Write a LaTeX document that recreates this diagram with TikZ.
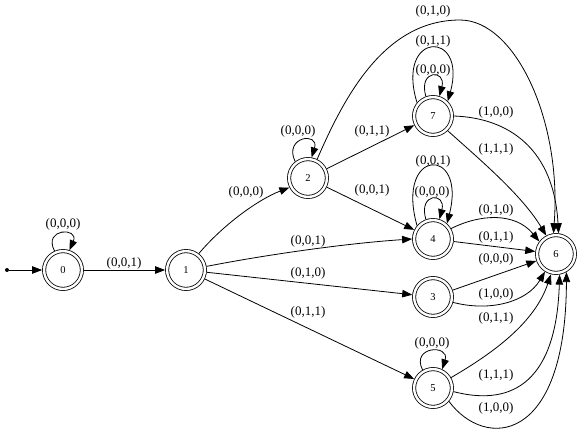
\documentclass[tikz,border=0pt]{standalone}
\usepackage{fontspec}
\setmainfont{Liberation Serif}
\usetikzlibrary{arrows.meta}
\begin{document}
\begin{tikzpicture}[x=1pt,y=-1pt,
  state/.style={circle,draw,line width=0.8pt,double,double distance=2.4pt,minimum size=37.8pt,inner sep=0pt,outer sep=2pt,font=\fontsize{10.5}{12}\selectfont},
  lbl/.style={inner sep=0pt,font=\fontsize{13}{15}\selectfont},
  edge/.style={line width=0.8pt,-{Triangle[length=10pt,width=7.5pt]}},
  dot/.style={circle,fill,inner sep=0pt,minimum size=4pt}]
\useasboundingbox (0,0) rectangle (581,429);
% nodes
\node[dot] (s) at (7,270) {};
\node[state] (n0) at (63,270) {0};
\node[state] (n1) at (186,270) {1};
\node[state] (n2) at (308,178) {2};
\node[state] (n7) at (433,116) {7};
\node[state] (n4) at (433,239) {4};
\node[state] (n3) at (433,297) {3};
\node[state] (n5) at (433,388) {5};
\node[state] (n6) at (556,254) {6};
% labels
\node[lbl] (l0) at (63,224) {(0,0,0)};
\node[lbl] (l01) at (124,263) {(0,0,1)};
\node[lbl] (l12) at (246,192) {(0,0,0)};
\node[lbl] (l2) at (298,131) {(0,0,0)};
\node[lbl] (l27) at (372,131) {(0,1,1)};
\node[lbl] (l24) at (372,190) {(0,0,1)};
\node[lbl] (l26) at (433,11) {(0,1,0)};
\node[lbl] (l7a) at (433,41) {(0,1,1)};
\node[lbl] (l7b) at (433,70) {(0,0,0)};
\node[lbl] (l76a) at (496,112) {(1,0,0)};
\node[lbl] (l76b) at (496,149) {(1,1,1)};
\node[lbl] (l4a) at (433,161) {(0,0,1)};
\node[lbl] (l4b) at (432,192) {(0,0,0)};
\node[lbl] (l14) at (308,241) {(0,0,1)};
\node[lbl] (l46a) at (496,210) {(0,1,0)};
\node[lbl] (l46b) at (496,237) {(0,1,1)};
\node[lbl] (l13) at (308,273) {(0,1,0)};
\node[lbl] (l36a) at (496,259) {(0,0,0)};
\node[lbl] (l36b) at (496,294) {(1,0,0)};
\node[lbl] (l15) at (308,312) {(0,1,1)};
\node[lbl] (l56a) at (496,318) {(0,1,1)};
\node[lbl] (l5) at (432,343) {(0,0,0)};
\node[lbl] (l56b) at (496,375) {(1,1,1)};
\node[lbl] (l56c) at (496,408) {(1,0,0)};
% edges
\draw[edge] (s) -- (n0);
\draw[edge] (n0.114) .. controls +(-12,-23) and +(10,-23) .. (n0.72);
\draw[edge] (n0) -- (n1);
\draw[edge] (n1.52) .. controls (222,226) and (257,200) .. (n2.207);
\draw[edge] (n2.128) .. controls +(-12,-25) and +(8,-26) .. (n2.80);
\draw[edge] (n2) -- (n7);
\draw[edge] (n2) -- (n4);
\draw[edge] (n2.64) .. controls (345,95) and (385,20) .. (460,20) .. controls (515,20) and (562,120) .. (n6.97);
\draw[edge] (n7.140) .. controls +(-22,-72) and +(20,-72) .. (n7.45);
\draw[edge] (n7.110) .. controls +(-8,-27) and +(7,-27) .. (n7.72);
\draw[edge] (n7.0) .. controls (510,118) and (554,150) .. (n6.83);
\draw[edge] (n7.-45) .. controls (478,158) and (522,195) .. (n6.118);
\draw[edge] (n4.140) .. controls +(-22,-78) and +(20,-78) .. (n4.48);
\draw[edge] (n4.110) .. controls +(-8,-27) and +(7,-27) .. (n4.72);
\draw[edge] (n1.10) .. controls (270,254) and (350,243) .. (n4.180);
\draw[edge] (n4.30) .. controls (480,214) and (515,212) .. (n6.143);
\draw[edge] (n4) -- (n6);
\draw[edge] (n1) -- (n3);
\draw[edge] (n3) -- (n6);
\draw[edge] (n3.-15) .. controls (490,312) and (527,302) .. (n6.238);
\draw[edge] (n1) -- (n5);
\draw[edge] (n5.120) .. controls +(-12,-24) and +(8,-25) .. (n5.64);
\draw[edge] (n5.30) .. controls (495,352) and (535,322) .. (n6.256);
\draw[edge] (n5.-10) .. controls (505,405) and (556,390) .. (n6.280);
\draw[edge] (n5.-40) .. controls (485,450) and (566,445) .. (n6.300);
\end{tikzpicture}
\end{document}
